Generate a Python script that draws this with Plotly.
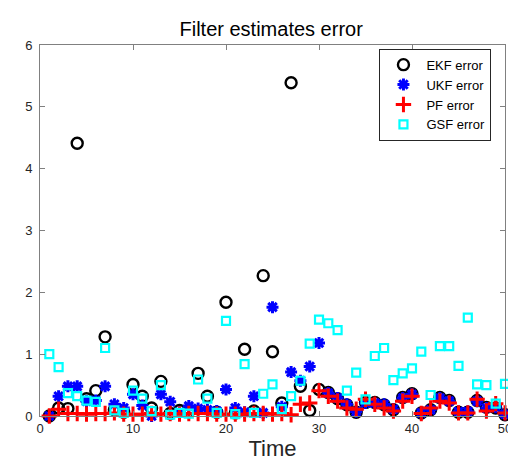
import plotly.graph_objects as go

time = list(range(1, 51))

ekf_err = [0.00, 0.13, 0.12, 4.41, 0.28, 0.41, 1.28, 0.10, 0.06, 0.51,
           0.32, 0.13, 0.56, 0.04, 0.09, 0.07, 0.69, 0.32, 0.06, 1.84,
           0.05, 1.08, 0.08, 2.27, 1.04, 0.21, 5.39, 0.48, 0.09, 0.43,
           0.38, 0.28, 0.18, 0.06, 0.22, 0.22, 0.18, 0.10, 0.30, 0.36,
           0.05, 0.10, 0.30, 0.25, 0.06, 0.06, 0.25, 0.14, 0.13, 0.02]

ukf_err = [0.00, 0.32, 0.48, 0.48, 0.24, 0.25, 0.48, 0.19, 0.13, 0.35,
           0.17, 0.00, 0.35, 0.23, 0.06, 0.16, 0.12, 0.10, 0.08, 0.43,
           0.13, 0.06, 0.32, 0.05, 1.76, 0.15, 0.71, 0.57, 0.80, 1.18,
           0.37, 0.29, 0.19, 0.07, 0.21, 0.21, 0.19, 0.11, 0.29, 0.35,
           0.05, 0.10, 0.29, 0.24, 0.07, 0.07, 0.24, 0.13, 0.14, 0.03]

pf_err = [0.00, 0.11, 0.04, 0.04, 0.03, 0.04, 0.04, 0.05, 0.03, 0.03,
          0.03, 0.04, 0.03, 0.04, 0.03, 0.04, 0.04, 0.04, 0.03, 0.03,
          0.03, 0.03, 0.04, 0.04, 0.03, 0.04, 0.02, 0.19, 0.21, 0.41,
          0.32, 0.24, 0.13, 0.11, 0.27, 0.19, 0.13, 0.08, 0.24, 0.32,
          0.04, 0.13, 0.24, 0.21, 0.05, 0.05, 0.27, 0.08, 0.20, 0.05]

gsf_err = [1.00, 0.79, 0.37, 0.32, 0.25, 0.23, 1.10, 0.09, 0.05, 0.41,
           0.28, 0.08, 0.50, 0.02, 0.05, 0.04, 0.59, 0.28, 0.05, 1.54,
           0.03, 0.84, 0.05, 0.36, 0.51, 0.11, 0.32, 0.57, 1.17, 1.56,
           1.50, 1.39, 0.41, 0.70, 0.27, 0.97, 1.10, 0.58, 0.69, 0.77,
           1.04, 0.34, 1.13, 1.13, 0.81, 1.59, 0.51, 0.50, 0.20, 0.52]

x_ticks = [0, 10, 20, 30, 40, 50]
y_ticks = [0, 1, 2, 3, 4, 5, 6]

FONT = "Liberation Sans, Arial, Helvetica, sans-serif"

fig = go.Figure()
fig.add_trace(go.Scatter(x=time, y=ekf_err, mode="markers", name="EKF error",
                         cliponaxis=False,
                         marker=dict(symbol="circle-open", size=11, color="#000000",
                                     line=dict(width=2.4, color="#000000"))))
fig.add_trace(go.Scatter(x=time, y=ukf_err, mode="markers", name="UKF error",
                         cliponaxis=False,
                         marker=dict(symbol="asterisk-open", size=10, color="#0000FF",
                                     line=dict(width=3, color="#0000FF"))))
fig.add_trace(go.Scatter(x=time, y=pf_err, mode="markers", name="PF error",
                         cliponaxis=False,
                         marker=dict(symbol="cross-thin-open", size=11, color="#FF0000",
                                     line=dict(width=3, color="#FF0000"))))
fig.add_trace(go.Scatter(x=time, y=gsf_err, mode="markers", name="GSF error",
                         cliponaxis=False,
                         marker=dict(symbol="square-open", size=8, color="#00FFFF",
                                     line=dict(width=2.2, color="#00FFFF"))))

axis_common = dict(showgrid=False, zeroline=False, showline=True, linecolor="#808080",
                   linewidth=1, mirror="ticks", ticks="inside", ticklen=5,
                   tickcolor="#808080", tickfont=dict(family=FONT, size=13, color="#262626"))

fig.update_layout(
    width=516, height=461,
    margin=dict(l=32, r=12, t=37, b=51),
    paper_bgcolor="white", plot_bgcolor="white",
    font=dict(family=FONT, color="#000000"),
    title=dict(text="Filter estimates error", x=0.51, xanchor="center",
               y=0.955, yanchor="middle",
               font=dict(family=FONT, size=20, color="#000000")),
    xaxis=dict(range=[0, 50], tickvals=x_ticks, ticktext=[str(v) for v in x_ticks],
               title=dict(text="Time", font=dict(family=FONT, size=22, color="#262626"),
                          standoff=6),
               **axis_common),
    yaxis=dict(range=[0, 6], tickvals=y_ticks, ticktext=[str(v) for v in y_ticks],
               ticklabelstandoff=4,
               **axis_common),
    legend=dict(x=0.73, y=0.99, xanchor="left", yanchor="top",
                bgcolor="white", bordercolor="#262626", borderwidth=1,
                font=dict(family=FONT, size=13, color="#000000"),
                tracegroupgap=0, itemwidth=36),
    showlegend=True,
)

fig.write_html("out.html")
